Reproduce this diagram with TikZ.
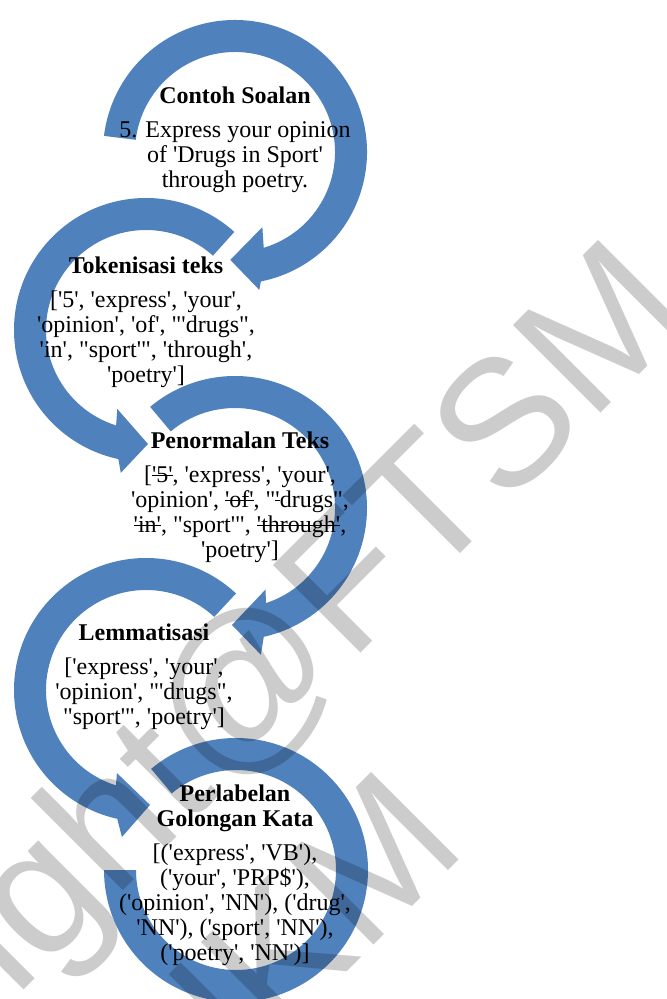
\documentclass[tikz,border=0pt]{standalone}
\usepackage{fontspec}
\setmainfont{Liberation Serif}[Ligatures=TeXOff]
\setsansfont{Liberation Sans}
\usetikzlibrary{calc}
\definecolor{CycleBlue}{HTML}{4F81BD}
\newsavebox\coretbox
\newcommand{\coret}[1]{\sbox\coretbox{#1}\rlap{\rule[0.28em]{\wd\coretbox}{0.6pt}}\usebox\coretbox}

\begin{document}
\begin{tikzpicture}[x=0.5pt,y=0.5pt]
    \tikzset{ring/.style={fill=CycleBlue},
      stepbox/.style={anchor=north,inner sep=0pt,align=center,font=\fontsize{12}{12.5}\selectfont},
      wmark/.style={anchor=base,rotate=45,inner sep=0pt,text=black,text opacity=0.2,font=\fontsize{90}{100}\selectfont\sffamily}}
    \useasboundingbox (0,0) rectangle (667,-999);
    \coordinate (c1) at (235,-152);
    \coordinate (c2) at (146,-330);
    \coordinate (c3) at (235,-508);
    \coordinate (c4) at (146,-690);
    \coordinate (c5) at (236,-870);

    \fill[ring] ($(c1)+(173:132)$) arc[start angle=173,end angle=-78.7,radius=132]
      -- ($(c1)+(-80:140)$) -- ($(c1)+(-92.5:108)$) -- ($(c1)+(-70:80)$)
      -- ($(c1)+(-73.3:100)$) arc[start angle=-73.3,end angle=173,radius=100] -- cycle;
    \node[stepbox] (s1) at (235,-86.6) {\textbf{Contoh Soalan}\\[4.5pt]5. Express your opinion\\of 'Drugs in Sport'\\through poetry.};

    \fill[ring] ($(c2)+(48:132)$) arc[start angle=48,end angle=257.9,radius=132]
      -- ($(c2)+(260:145)$) -- ($(c2)+(271:114)$) -- ($(c2)+(250:84)$)
      -- ($(c2)+(252.6:100)$) arc[start angle=252.6,end angle=48,radius=100] -- cycle;
    \node[stepbox] (s2) at (146,-256.6) {\textbf{Tokenisasi teks}\\[4.5pt]{[}'5', 'express', 'your',\\'opinion', 'of', "'drugs",\\'in', "sport'", 'through',\\'poetry']};

    \fill[ring] ($(c3)+(130:132)$) arc[start angle=130,end angle=-77.4,radius=132]
      -- ($(c3)+(-80:149)$) -- ($(c3)+(-91.5:117)$) -- ($(c3)+(-69.4:87)$)
      -- ($(c3)+(-72:100)$) arc[start angle=-72,end angle=130,radius=100] -- cycle;
    \node[stepbox] (s3) at (240,-431.6) {\textbf{Penormalan Teks}\\[4.5pt]{[}\coret{'5'}, 'express', 'your',\\'opinion', \coret{'of'}, "\coret{'}drugs",\\\coret{'in'}, "sport'", \coret{'through'},\\'poetry']};

    \fill[ring] ($(c4)+(47:132)$) arc[start angle=47,end angle=257.4,radius=132]
      -- ($(c4)+(260.7:149)$) -- ($(c4)+(272:115)$) -- ($(c4)+(250.7:88)$)
      -- ($(c4)+(252.5:100)$) arc[start angle=252.5,end angle=47,radius=100] -- cycle;
    \node[stepbox] (s4) at (144,-623.6) {\textbf{Lemmatisasi}\\[4.5pt]{[}'express', 'your',\\'opinion', "'drugs",\\"sport'", 'poetry']};

    \fill[ring] ($(c5)+(130:132)$) arc[start angle=130,end angle=-180,radius=132]
      -- ($(c5)+(180:100)$) arc[start angle=-180,end angle=130,radius=100] -- cycle;
    \node[stepbox] (s5) at (235,-784.6) {\textbf{Perlabelan}\\\textbf{Golongan Kata}\\[4.5pt]{[}('express', 'VB'),\\('your', 'PRP\$'),\\('opinion', 'NN'), ('drug',\\'NN'), ('sport', 'NN'),\\('poetry', 'NN')]};

    \node[wmark] (wm1) at (186.4,-827.6) {Copyright@FTSM};
    \node[wmark] (wm2) at (327.9,-990.6) {UKM};
\end{tikzpicture}
\end{document}
